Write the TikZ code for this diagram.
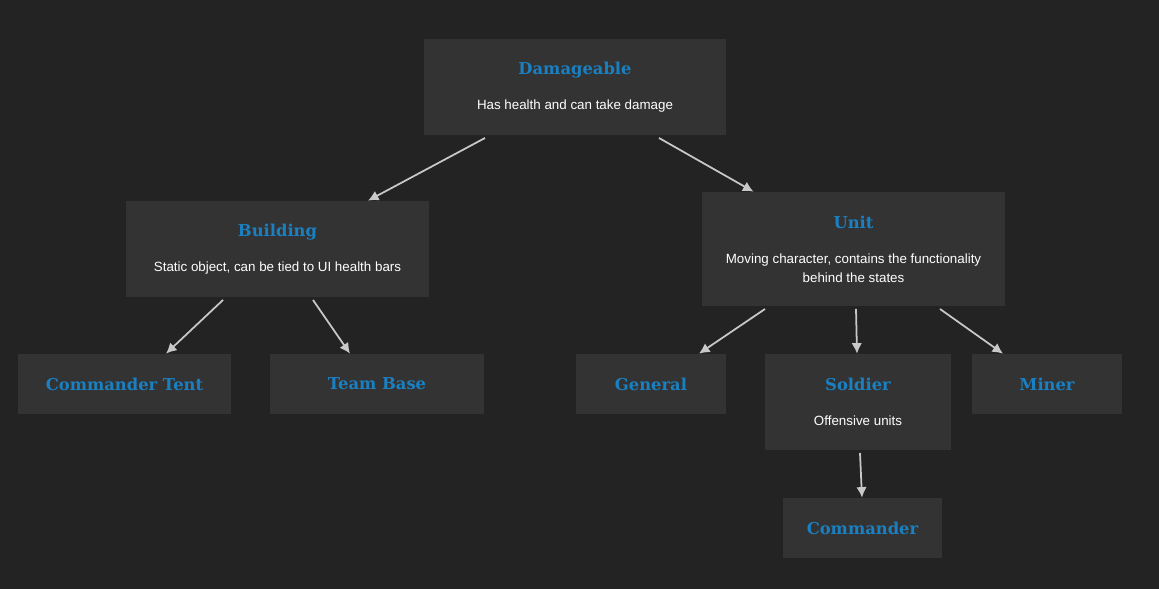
\documentclass[tikz,border=0pt]{standalone}
\usepackage{fontspec}
\setmainfont{Liberation Sans}
\newfontfamily\headfont{DejaVu Serif}
\usetikzlibrary{arrows.meta}
\definecolor{bgcol}{HTML}{232323}
\definecolor{boxcol}{HTML}{333333}
\definecolor{headcol}{HTML}{1A80C2}
\definecolor{arrcol}{HTML}{C8C8C8}
\newcommand{\boxtitle}[1]{{\headfont\bfseries\fontsize{9.3}{11}\selectfont\color{headcol}#1}}
\newcommand{\boxtext}[1]{{\color{white}#1}}

\begin{document}
\begin{tikzpicture}[x=0.02cm, y=-0.02cm, >={Latex[length=6pt,width=6pt]},
	box/.style={fill=boxcol, inner sep=0pt, align=center, font=\fontsize{7.6}{10.8}\selectfont},
	arr/.style={->, arrcol, line width=1pt}]
	\useasboundingbox (0,0) rectangle (1159,588);
	\fill [bgcol] (-5,-5) rectangle (1164,593);
	% boxes
	\node [box, minimum width=6.04cm, minimum height=1.92cm] (dmg) at (575,87) {\boxtitle{Damageable}\\[9pt]\boxtext{Has health and can take damage}};
	\node [box, minimum width=6.06cm, minimum height=1.92cm] (bld) at (277.5,249) {\boxtitle{Building}\\[9pt]\boxtext{Static object, can be tied to UI health bars}};
	\node [box, minimum width=6.06cm, minimum height=2.28cm] (unit) at (853.5,249) {\boxtitle{Unit}\\[9pt]\boxtext{Moving character, contains the functionality}\\\boxtext{behind the states}};
	\node [box, minimum width=4.26cm, minimum height=1.2cm] (tent) at (124.5,384) {\boxtitle{Commander Tent}};
	\node [box, minimum width=4.28cm, minimum height=1.2cm] (team) at (377,384) {\boxtitle{Team Base}};
	\node [box, minimum width=3cm, minimum height=1.2cm] (gen) at (651,384) {\boxtitle{General}};
	\node [box, minimum width=3.72cm, minimum height=1.92cm] (sold) at (858,402) {\boxtitle{Soldier}\\[9pt]\boxtext{Offensive units}};
	\node [box, minimum width=3cm, minimum height=1.2cm] (miner) at (1047,384) {\boxtitle{Miner}};
	\node [box, minimum width=3.18cm, minimum height=1.2cm] (cmd) at (862.5,528) {\boxtitle{Commander}};
	% connectors
	\draw [arr] ([xshift=-1.8cm,yshift=-1.5pt]dmg.south) -- ([xshift=1.81cm]bld.north);
	\draw [arr] ([xshift=1.68cm,yshift=-1.5pt]dmg.south) -- ([xshift=-2cm]unit.north);
	\draw [arr] ([xshift=-1.09cm,yshift=-1.5pt]bld.south) -- ([xshift=0.83cm]tent.north);
	\draw [arr] ([xshift=0.71cm,yshift=-1.5pt]bld.south) -- ([xshift=-0.54cm]team.north);
	\draw [arr] ([xshift=-1.77cm,yshift=-1.5pt]unit.south) -- ([xshift=0.96cm]gen.north);
	\draw [arr] ([xshift=0.05cm,yshift=-1.5pt]unit.south) -- ([xshift=-0.02cm]sold.north);
	\draw [arr] ([xshift=1.73cm,yshift=-1.5pt]unit.south) -- ([xshift=-0.88cm]miner.north);
	\draw [arr] ([xshift=0.04cm,yshift=-1.5pt]sold.south) -- ([xshift=-0.01cm]cmd.north);
\end{tikzpicture}
\end{document}
